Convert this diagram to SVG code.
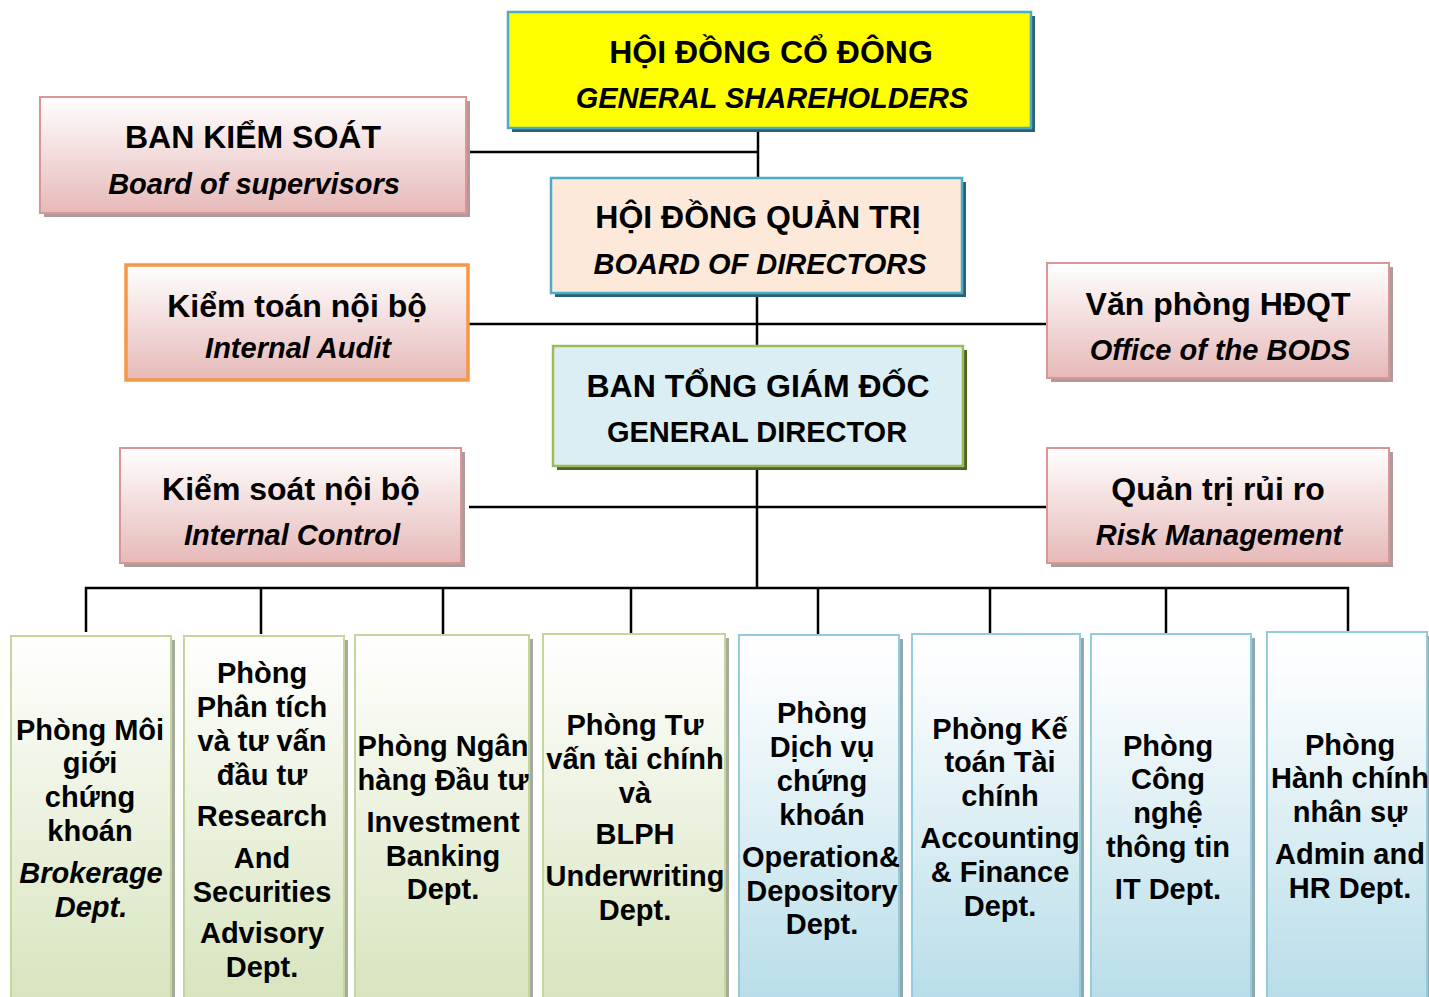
<svg xmlns="http://www.w3.org/2000/svg" width="1429" height="997" viewBox="0 0 1429 997">
<defs>
<linearGradient id="gPink" x1="0" y1="0" x2="0" y2="1"><stop offset="0" stop-color="#ffffff"/><stop offset="1" stop-color="#e6b9b8"/></linearGradient>
<linearGradient id="gGreen" x1="0" y1="0" x2="0" y2="1"><stop offset="0" stop-color="#ffffff"/><stop offset="0.1" stop-color="#fbfcf8"/><stop offset="1" stop-color="#d7e4bd"/></linearGradient>
<linearGradient id="gBlue" x1="0" y1="0" x2="0" y2="1"><stop offset="0" stop-color="#ffffff"/><stop offset="0.1" stop-color="#fbfdfe"/><stop offset="1" stop-color="#b7dde8"/></linearGradient>
<style>
.t{font-family:"Liberation Sans",Arial,sans-serif;font-weight:bold;fill:#000;text-anchor:middle}
.h{font-size:32px}
.s{font-size:29px}
.i{font-style:italic}
.d{font-size:29px}
.pink{fill:url(#gPink);stroke:#d99694;stroke-width:2}
.pinkSh{fill:#b09a9a}
.green{fill:url(#gGreen);stroke:#c3d69b;stroke-width:2}
.greenSh{fill:#a6ab9c}
.blue{fill:url(#gBlue);stroke:#93cddd;stroke-width:2}
.blueSh{fill:#8fa8b1}
.ln{stroke:#000;stroke-width:2.5;fill:none}
</style>
</defs>
<rect width="1429" height="997" fill="#ffffff"/>

<g id="connectors">
<line class="ln" x1="758" y1="128" x2="758" y2="178"/>
<line class="ln" x1="468" y1="152" x2="758" y2="152"/>
<line class="ln" x1="757" y1="293" x2="757" y2="346"/>
<line class="ln" x1="468" y1="324" x2="1047" y2="324"/>
<line class="ln" x1="757" y1="466" x2="757" y2="588"/>
<line class="ln" x1="469" y1="507" x2="1047" y2="507"/>
<polyline class="ln" points="86,632 86,588 1348,588 1348,632"/>
<line class="ln" x1="261" y1="588" x2="261" y2="634"/>
<line class="ln" x1="443" y1="588" x2="443" y2="634"/>
<line class="ln" x1="631" y1="588" x2="631" y2="634"/>
<line class="ln" x1="818" y1="588" x2="818" y2="634"/>
<line class="ln" x1="990" y1="588" x2="990" y2="634"/>
<line class="ln" x1="1166" y1="588" x2="1166" y2="634"/>
</g>

<g id="general-shareholders">
<rect x="512" y="16" width="523" height="116" fill="#2b6173"/>
<rect x="508" y="12" width="523" height="116" fill="#ffff00" stroke="#4bacc6" stroke-width="2.5"/>
<text class="t h" x="771" y="63">HỘI ĐỒNG CỔ ĐÔNG</text>
<text class="t s i" x="772" y="108">GENERAL SHAREHOLDERS</text>
</g>

<g id="board-of-supervisors">
<rect x="44" y="101" width="426" height="116" class="pinkSh"/>
<rect x="40" y="97" width="426" height="116" class="pink"/>
<text class="t h" x="253" y="148">BAN KIỂM SOÁT</text>
<text class="t s i" x="254" y="194">Board of supervisors</text>
</g>

<g id="board-of-directors">
<rect x="555" y="182" width="411" height="115" fill="#2b6173"/>
<rect x="551" y="178" width="411" height="115" fill="#fde9d9" stroke="#4bacc6" stroke-width="2.5"/>
<text class="t h" x="758" y="228">HỘI ĐỒNG QUẢN TRỊ</text>
<text class="t s i" x="760" y="274">BOARD OF DIRECTORS</text>
</g>

<g id="internal-audit">
<rect x="126" y="265" width="342" height="115" fill="url(#gPink)" stroke="#f79646" stroke-width="3.5"/>
<text class="t h" x="297" y="317">Kiểm toán nội bộ</text>
<text class="t s i" x="298" y="358">Internal Audit</text>
</g>

<g id="office-bods">
<rect x="1051" y="267" width="342" height="115" class="pinkSh"/>
<rect x="1047" y="263" width="342" height="115" class="pink"/>
<text class="t h" x="1218" y="315">Văn phòng HĐQT</text>
<text class="t s i" x="1220" y="360">Office of the BODS</text>
</g>

<g id="general-director">
<rect x="557" y="350" width="410" height="120" fill="#4f6228"/>
<rect x="553" y="346" width="410" height="120" fill="#dbeef3" stroke="#9bbb59" stroke-width="2.5"/>
<text class="t h" x="758" y="397">BAN TỔNG GIÁM ĐỐC</text>
<text class="t s" x="757" y="442">GENERAL DIRECTOR</text>
</g>

<g id="internal-control">
<rect x="124" y="452" width="341" height="115" class="pinkSh"/>
<rect x="120" y="448" width="341" height="115" class="pink"/>
<text class="t h" x="291" y="500">Kiểm soát nội bộ</text>
<text class="t s i" x="292" y="545">Internal Control</text>
</g>

<g id="risk-management">
<rect x="1051" y="452" width="342" height="115" class="pinkSh"/>
<rect x="1047" y="448" width="342" height="115" class="pink"/>
<text class="t h" x="1218" y="500">Quản trị rủi ro</text>
<text class="t s i" x="1219" y="545">Risk Management</text>
</g>

<g id="brokerage">
<rect x="15" y="640" width="160" height="370" class="greenSh"/>
<rect x="11" y="636" width="160" height="370" class="green"/>
<text class="t d" x="90" y="740">Phòng Môi</text>
<text class="t d" x="90" y="773">giới</text>
<text class="t d" x="90" y="807">chứng</text>
<text class="t d" x="90" y="841">khoán</text>
<text class="t d i" x="91" y="883">Brokerage</text>
<text class="t d i" x="91" y="917">Dept.</text>
</g>

<g id="research">
<rect x="188" y="640" width="160" height="370" class="greenSh"/>
<rect x="184" y="636" width="160" height="370" class="green"/>
<text class="t d" x="262" y="683">Phòng</text>
<text class="t d" x="262" y="717">Phân tích</text>
<text class="t d" x="262" y="751">và tư vấn</text>
<text class="t d" x="262" y="785">đầu tư</text>
<text class="t d" x="262" y="826">Research</text>
<text class="t d" x="262" y="868">And</text>
<text class="t d" x="262" y="902">Securities</text>
<text class="t d" x="262" y="943">Advisory</text>
<text class="t d" x="262" y="977">Dept.</text>
</g>

<g id="investment-banking">
<rect x="359" y="639" width="174" height="370" class="greenSh"/>
<rect x="355" y="635" width="174" height="370" class="green"/>
<text class="t d" x="443" y="756">Phòng Ngân</text>
<text class="t d" x="443" y="790">hàng Đầu tư</text>
<text class="t d" x="443" y="832">Investment</text>
<text class="t d" x="443" y="866">Banking</text>
<text class="t d" x="443" y="899">Dept.</text>
</g>

<g id="underwriting">
<rect x="547" y="638" width="182" height="370" class="greenSh"/>
<rect x="543" y="634" width="182" height="370" class="green"/>
<text class="t d" x="635" y="735">Phòng Tư</text>
<text class="t d" x="635" y="769">vấn tài chính</text>
<text class="t d" x="635" y="803">và</text>
<text class="t d" x="635" y="844">BLPH</text>
<text class="t d" x="635" y="886">Underwriting</text>
<text class="t d" x="635" y="920">Dept.</text>
</g>

<g id="operation-depository">
<rect x="743" y="639" width="160" height="370" class="blueSh"/>
<rect x="739" y="635" width="160" height="370" class="blue"/>
<text class="t d" x="822" y="723">Phòng</text>
<text class="t d" x="822" y="757">Dịch vụ</text>
<text class="t d" x="822" y="791">chứng</text>
<text class="t d" x="822" y="825">khoán</text>
<text class="t d" x="821" y="867">Operation&amp;</text>
<text class="t d" x="822" y="901">Depository</text>
<text class="t d" x="822" y="934">Dept.</text>
</g>

<g id="accounting-finance">
<rect x="916" y="638" width="168" height="370" class="blueSh"/>
<rect x="912" y="634" width="168" height="370" class="blue"/>
<text class="t d" x="1000" y="739">Phòng Kế</text>
<text class="t d" x="1000" y="772">toán Tài</text>
<text class="t d" x="1000" y="806">chính</text>
<text class="t d" x="1000" y="848">Accounting</text>
<text class="t d" x="1000" y="882">&amp; Finance</text>
<text class="t d" x="1000" y="916">Dept.</text>
</g>

<g id="it">
<rect x="1095" y="638" width="160" height="370" class="blueSh"/>
<rect x="1091" y="634" width="160" height="370" class="blue"/>
<text class="t d" x="1168" y="756">Phòng</text>
<text class="t d" x="1168" y="789">Công</text>
<text class="t d" x="1168" y="823">nghệ</text>
<text class="t d" x="1168" y="857">thông tin</text>
<text class="t d" x="1168" y="899">IT Dept.</text>
</g>

<g id="admin-hr">
<rect x="1271" y="636" width="160" height="370" class="blueSh"/>
<rect x="1267" y="632" width="160" height="370" class="blue"/>
<text class="t d" x="1350" y="755">Phòng</text>
<text class="t d" x="1350" y="788">Hành chính</text>
<text class="t d" x="1350" y="822">nhân sự</text>
<text class="t d" x="1350" y="864">Admin and</text>
<text class="t d" x="1350" y="898">HR Dept.</text>
</g>
</svg>
